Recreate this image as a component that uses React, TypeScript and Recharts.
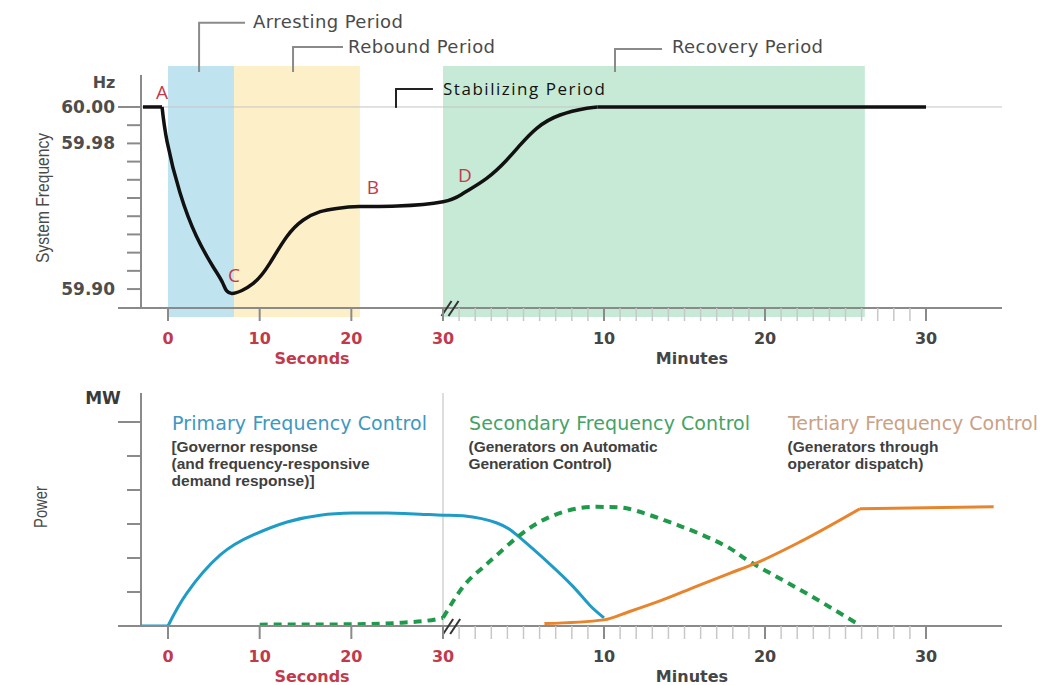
import React from "react";
import {
  ComposedChart,
  Line,
  XAxis,
  YAxis,
  ReferenceArea,
  ReferenceLine,
  ReferenceDot,
} from "recharts";

// The time axis is broken at 30 s: after it one minute is this many "seconds" wide.
const MIN_W = 16.1 / 9.1667;
const minToU = (m: number) => 30 + m * MIN_W;

const RED = "#c13a4c";
const GREY = "#8a8a8a";
const DV = "'DejaVu Sans', sans-serif";

// ---------- top panel: system frequency (Hz) ----------
const hzLeadSec = [-2.73, -0.65];
const hzLeadVal = [60, 60];
const hzSec = [-0.65, -0.1, 1.3, 3.1, 4.95, 6.0, 6.95, 9.3, 11.1, 12.95, 14.76, 16.6, 18.4, 20.9, 25, 30];
const hzSecVal = [60, 59.981, 59.953, 59.929, 59.912, 59.903, 59.8976, 59.9031, 59.9141, 59.9287, 59.9379, 59.9425, 59.9443, 59.9453, 59.9456, 59.948];
const hzMin = [1.26, 2.71, 3.96, 4.78, 5.82, 7.27, 8.93, 9.6];
const hzMinVal = [59.9526, 59.9608, 59.9709, 59.979, 59.9883, 59.9956, 59.9993, 60];
const hzTailMin = [9.6, 30];
const hzTailVal = [60, 60];
const hzTicks = [59.9, 59.91, 59.92, 59.93, 59.94, 59.95, 59.96, 59.97, 59.98, 59.99, 60];
const hzTickLabels = [60, 59.98, 59.9];

// ---------- bottom panel: power (MW) ----------
const primLeadSec = [-2.95, 0];
const primLeadVal = [0, 0];
const primSec = [0, 2.04, 5.7, 9.3, 13, 16.6, 20.2, 23.9, 27.5, 30];
const primSecVal = [0, 0.96, 2.09, 2.68, 3.06, 3.26, 3.32, 3.32, 3.29, 3.26];
const primMin = [1.24, 3.35, 4.8, 6.5, 8.1, 9.1, 10];
const primMinVal = [3.24, 3.03, 2.59, 1.88, 1.15, 0.62, 0.24];

const secoSec = [10, 20, 25, 29.3, 30];
const secoSecVal = [0.04, 0.05, 0.09, 0.2, 0.24];
const secoMin = [0, 1.24, 2.3, 3.35, 4.8, 6.5, 8.5, 10.2, 11.6, 13.7, 15.8, 17.8, 19.1, 22.2, 25.8];
const secoMinVal = [0.24, 1.15, 1.65, 2.09, 2.68, 3.18, 3.47, 3.5, 3.44, 3.12, 2.74, 2.29, 1.88, 1.06, 0.05];

const tertRampMin = [6.3, 10, 11.55, 13.6, 15.7, 17.8, 19.4, 22.2, 25.9];
const tertRampVal = [0.07, 0.18, 0.42, 0.76, 1.16, 1.55, 1.84, 2.48, 3.45];
const tertFlatMin = [25.9, 34.2];
const tertFlatVal = [3.45, 3.51];

const mwTicks = [1, 2, 3, 4, 5, 6];

// ---------- shared time axis ----------
const secondTicks = [0, 10, 20, 30];
const minuteTicks = [1, 2, 3, 4, 5, 6, 7, 8, 9, 10, 11, 12, 13, 14, 15, 16, 17, 18, 19, 20, 21, 22, 23, 24, 25, 26, 27, 28, 29, 30];
const minuteLabels = [10, 20, 30];
const timeTicks = [...secondTicks, ...minuteTicks.map(minToU)];

const controlTitles = ["Primary Frequency Control", "Secondary Frequency Control", "Tertiary Frequency Control"];
const controlNotes = [
  ["[Governor response", "(and frequency-responsive", "demand response)]"],
  ["(Generators on Automatic", "Generation Control)"],
  ["(Generators through", "operator dispatch)"],
];
const controlColors = ["#3d98c2", "#45a366", "#c9a186"];
const periodNames = ["Arresting Period", "Rebound Period", "Stabilizing Period", "Recovery Period"];

const zip = (us: number[], vs: number[]) => us.map((u, i) => ({ u, v: vs[i] }));

const hzLead = zip(hzLeadSec, hzLeadVal);
const hzData = [...zip(hzSec, hzSecVal), ...zip(hzMin.map(minToU), hzMinVal)];
const hzTail = zip(hzTailMin.map(minToU), hzTailVal);
const primLead = zip(primLeadSec, primLeadVal);
const primData = [...zip(primSec, primSecVal), ...zip(primMin.map(minToU), primMinVal)];
const secoSlow = zip(secoSec, secoSecVal);
const secoFast = zip(secoMin.map(minToU), secoMinVal);
const tertRamp = zip(tertRampMin.map(minToU), tertRampVal);
const tertFlat = zip(tertFlatMin.map(minToU), tertFlatVal);

const X_DOMAIN: [number, number] = [-5.455, 90.98];
const HZ_DOMAIN: [number, number] = [59.8896, 60.0225];
const MW_DOMAIN: [number, number] = [0, 6.853];
const Y_AXIS_U = -2.945;

function renderTimeTick(p: any) {
  const { x, y, payload } = p;
  const v = payload.value as number;
  const isSec = v <= 30.001;
  const min = Math.round((v - 30) / MIN_W);
  const label = isSec ? String(Math.round(v)) : minuteLabels.includes(min) ? String(min) : "";
  const major = label !== "";
  return (
    <g>
      <line x1={x} x2={x} y1={y} y2={y + 13} stroke={major ? GREY : "#c8c8c8"} strokeWidth={major ? 2 : 1.5} />
      {major && (
        <text x={x} y={y + 30} textAnchor="middle" dominantBaseline="central"
          fontFamily={DV} fontWeight="bold" fontSize={16} fill={isSec ? RED : "#454545"}>
          {label}
        </text>
      )}
    </g>
  );
}

function renderHzTick(p: any) {
  const { x, y, payload } = p;
  const v = payload.value as number;
  const long = Math.abs(v - 60) < 1e-6;
  const lab = hzTickLabels.find((h) => Math.abs(h - v) < 1e-6);
  return (
    <g>
      <line x1={x + (long ? 0 : 9)} x2={x + 23} y1={y} y2={y} stroke={GREY} strokeWidth={2} />
      {lab !== undefined && (
        <text x={x - 3} y={y} textAnchor="end" dominantBaseline="central"
          fontFamily={DV} fontWeight="bold" fontSize={17} fill="#4d4d4d">
          {lab.toFixed(2)}
        </text>
      )}
    </g>
  );
}

function renderMwTick(p: any) {
  const { x, y, payload } = p;
  const long = payload.value === 6;
  return <line x1={x + (long ? 0 : 9)} x2={x + 23} y1={y} y2={y} stroke={GREY} strokeWidth={2} />;
}

type TextOpts = {
  size?: number;
  weight?: string;
  color?: string;
  family?: string;
  anchor?: "start" | "middle" | "end";
  rotate?: boolean;
  width?: number;
  squeeze?: boolean;
};

function note(key: string, u: number, v: number, text: string, o: TextOpts = {}) {
  return (
    <ReferenceDot
      key={key}
      x={u}
      y={v}
      r={0}
      ifOverflow="visible"
      shape={(p: any) => (
        <text
          x={p.cx}
          y={p.cy}
          dominantBaseline="central"
          textAnchor={o.anchor ?? "start"}
          fontFamily={o.family ?? DV}
          fontSize={o.size ?? 18}
          fontWeight={o.weight ?? "normal"}
          fill={o.color ?? "#4a4a4a"}
          transform={o.rotate ? `rotate(-90 ${p.cx} ${p.cy})` : undefined}
          textLength={o.width}
          lengthAdjust={o.squeeze ? "spacingAndGlyphs" : "spacing"}
        >
          {text}
        </text>
      )}
    />
  );
}

function bracket(key: string, stemU: number, lowV: number, highV: number, armU: number, color: string) {
  return [
    <ReferenceLine key={key + "s"} ifOverflow="visible" stroke={color} strokeWidth={2}
      segment={[{ x: stemU, y: lowV }, { x: stemU, y: highV }]} />,
    <ReferenceLine key={key + "a"} ifOverflow="visible" stroke={color} strokeWidth={2}
      segment={[{ x: stemU - 0.1, y: highV }, { x: armU, y: highV }]} />,
  ];
}

function breakMark(key: string, u: number, v: number) {
  return (
    <ReferenceDot
      key={key}
      x={u}
      y={v}
      r={0}
      ifOverflow="visible"
      shape={(p: any) => (
        <g stroke="#333" strokeWidth={2}>
          <line x1={p.cx - 9} y1={p.cy + 8} x2={p.cx + 1} y2={p.cy - 7} />
          <line x1={p.cx - 2} y1={p.cy + 8} x2={p.cx + 8} y2={p.cy - 7} />
        </g>
      )}
    />
  );
}

function FrequencyChart() {
  const shadeTop = 60.0225;
  const shadeBottom = 59.8846;
  const lineProps = { dataKey: "v", stroke: "#111", strokeWidth: 3.5, dot: false, activeDot: false, isAnimationActive: false } as const;
  return (
    <ComposedChart width={1042} height={380} margin={{ top: 66, right: 40, bottom: 42, left: 58 }}>
      <XAxis type="number" dataKey="u" domain={X_DOMAIN} allowDataOverflow ticks={timeTicks}
        interval={0} tickSize={0} tickMargin={0} tick={renderTimeTick}
        axisLine={{ stroke: GREY, strokeWidth: 2 }} tickLine={false} />
      <YAxis type="number" domain={HZ_DOMAIN} allowDataOverflow ticks={hzTicks} interval={0}
        tickSize={0} tickMargin={0} tick={renderHzTick} axisLine={false} tickLine={false} />

      <ReferenceArea x1={0} x2={7.2} y1={shadeBottom} y2={shadeTop} fill="#bfe4f0" fillOpacity={1} ifOverflow="visible" />
      <ReferenceArea x1={7.2} x2={20.94} y1={shadeBottom} y2={shadeTop} fill="#fdf0c9" fillOpacity={1} ifOverflow="visible" />
      <ReferenceArea x1={30} x2={minToU(26.2)} y1={shadeBottom} y2={shadeTop} fill="#c6ead6" fillOpacity={1} ifOverflow="visible" />
      <ReferenceLine y={60} stroke="#c4c4c4" strokeWidth={1} />
      <ReferenceLine ifOverflow="visible" stroke={GREY} strokeWidth={2}
        segment={[{ x: Y_AXIS_U, y: HZ_DOMAIN[0] }, { x: Y_AXIS_U, y: 60.0176 }]} />

      <Line data={hzLead} type="linear" {...lineProps} />
      <Line data={hzData} type="natural" {...lineProps} />
      <Line data={hzTail} type="linear" {...lineProps} />

      {bracket("arr", 3.39, 60.0192, 60.0462, 8.4, GREY)}
      {bracket("reb", 13.64, 60.0192, 60.033, 19.09, GREY)}
      {bracket("sta", 24.87, 59.9995, 60.0099, 28.9, "#222")}
      {bracket("rec", 48.76, 60.0192, 60.0319, 53.89, GREY)}
      {note("p0", 9.27, 60.0467, periodNames[0], { width: 150 })}
      {note("p1", 19.64, 60.033, periodNames[1], { width: 147 })}
      {note("p2", 30, 60.0099, periodNames[2], { family: "'Open Sans', sans-serif", size: 17, color: "#111", width: 162 })}
      {note("p3", 54.98, 60.033, periodNames[3], { width: 151 })}

      {note("A", -0.65, 60.0082, "A", { family: "'Open Sans', sans-serif", size: 19, color: RED, anchor: "middle" })}
      {note("B", 22.36, 59.956, "B", { family: "'Open Sans', sans-serif", size: 19, color: RED, anchor: "middle" })}
      {note("C", 7.2, 59.9077, "C", { family: "'Open Sans', sans-serif", size: 19, color: RED, anchor: "middle" })}
      {note("D", 32.4, 59.9626, "D", { family: "'Open Sans', sans-serif", size: 19, color: RED, anchor: "middle" })}

      {note("hz", -6.98, 60.0137, "Hz", { size: 16, weight: "bold", color: "#4d4d4d", anchor: "middle" })}
      {note("sf", -13.64, 59.95, "System Frequency", {
        family: "'Liberation Sans Narrow', 'Liberation Sans', sans-serif", size: 19, color: "#4a4a4a",
        anchor: "middle", rotate: true, width: 130, squeeze: true,
      })}
      {note("secs", 15.71, 59.8621, "Seconds", { size: 16, weight: "bold", color: RED, anchor: "middle" })}
      {note("mins", 57.16, 59.8621, "Minutes", { size: 16, weight: "bold", color: "#454545", anchor: "middle" })}
      {breakMark("brk", 30.82, HZ_DOMAIN[0])}
    </ComposedChart>
  );
}

function PowerChart() {
  const titleU = [0.44, 32.84, 67.63];
  const noteLineV = [5.294, 4.794, 4.294];
  const titleWidths = [255, 281, 250];
  const noteWidths = [[146, 198, 143], [189, 143], [151, 136]];
  const common = { dataKey: "v", dot: false, activeDot: false, isAnimationActive: false } as const;
  return (
    <ComposedChart width={1042} height={305} margin={{ top: 13, right: 40, bottom: 29, left: 58 }}>
      <XAxis type="number" dataKey="u" domain={X_DOMAIN} allowDataOverflow ticks={timeTicks}
        interval={0} tickSize={0} tickMargin={0} tick={renderTimeTick}
        axisLine={{ stroke: GREY, strokeWidth: 2 }} tickLine={false} />
      <YAxis type="number" domain={MW_DOMAIN} allowDataOverflow ticks={mwTicks} interval={0}
        tickSize={0} tickMargin={0} tick={renderMwTick} axisLine={false} tickLine={false} />

      <ReferenceLine x={30} stroke="#d2d2d2" strokeWidth={1.5} />
      <ReferenceLine ifOverflow="visible" stroke={GREY} strokeWidth={2}
        segment={[{ x: Y_AXIS_U, y: 0 }, { x: Y_AXIS_U, y: MW_DOMAIN[1] }]} />

      <Line data={primLead} type="linear" stroke="#1f9bc8" strokeWidth={3} {...common} />
      <Line data={primData} type="natural" stroke="#1f9bc8" strokeWidth={3} {...common} />
      <Line data={secoSlow} type="monotone" stroke="#1f9a4a" strokeWidth={4} strokeDasharray="8 6" {...common} />
      <Line data={secoFast} type="natural" stroke="#1f9a4a" strokeWidth={4} strokeDasharray="8 6" {...common} />
      <Line data={tertRamp} type="monotone" stroke="#e8842c" strokeWidth={3} {...common} />
      <Line data={tertFlat} type="linear" stroke="#e8842c" strokeWidth={3} {...common} />

      {controlTitles.map((t, i) => note("t" + i, titleU[i], 5.97, t, { size: 19, color: controlColors[i], width: titleWidths[i] }))}
      {controlNotes.map((lines, i) =>
        lines.map((l, j) =>
          note(`n${i}-${j}`, titleU[i] - 0.05, noteLineV[j], l, {
            family: "'Liberation Sans', Arial, sans-serif", size: 15.5, weight: "bold", color: "#3f3f3f", width: noteWidths[i][j],
          })
        )
      )}

      {note("mw", -7.09, 6.706, "MW", { size: 17, weight: "bold", color: "#3a3a3a", anchor: "middle" })}
      {note("pw", -13.96, 3.5, "Power", {
        family: "'Liberation Sans Narrow', 'Liberation Sans', sans-serif", size: 19, color: "#4a4a4a",
        anchor: "middle", rotate: true, width: 42, squeeze: true,
      })}
      {note("secs2", 15.71, -1.5, "Seconds", { size: 16, weight: "bold", color: RED, anchor: "middle" })}
      {note("mins2", 57.16, -1.5, "Minutes", { size: 16, weight: "bold", color: "#454545", anchor: "middle" })}
      {breakMark("brk2", 31.0, 0)}
    </ComposedChart>
  );
}

export default function App() {
  return (
    <div style={{ position: "absolute", left: 0, top: 0, width: 1042, height: 685, background: "#fff" }}>
      <div style={{ position: "absolute", left: 0, top: 0 }}>
        <FrequencyChart />
      </div>
      <div style={{ position: "absolute", left: 0, top: 380 }}>
        <PowerChart />
      </div>
    </div>
  );
}
